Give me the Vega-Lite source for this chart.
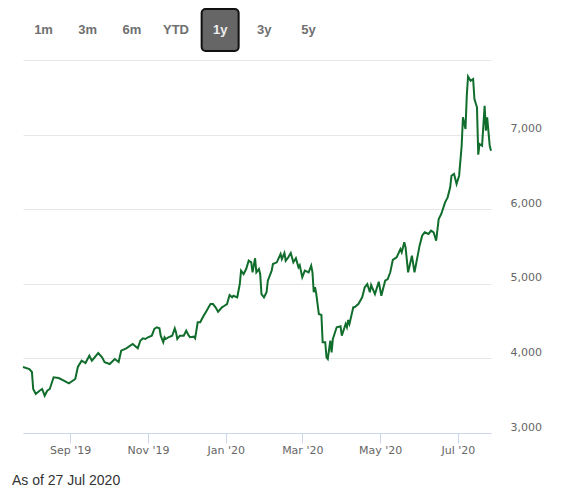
{
  "$schema": "https://vega.github.io/schema/vega-lite/v6.json",
  "background": "white",
  "padding": {"left": 12, "top": 8, "right": 0, "bottom": 0},
  "spacing": 8,
  "config": {"view": {"stroke": null}, "font": "DejaVu Sans"},
  "vconcat": [
    {
      "width": 306,
      "height": 42,
      "data": {
        "values": [
          {"range": "1m", "selected": false},
          {"range": "3m", "selected": false},
          {"range": "6m", "selected": false},
          {"range": "YTD", "selected": false},
          {"range": "1y", "selected": true},
          {"range": "3y", "selected": false},
          {"range": "5y", "selected": false}
        ]
      },
      "encoding": {
        "x": {
          "field": "range",
          "type": "nominal",
          "sort": null,
          "scale": {
            "type": "point",
            "padding": 0.465,
            "domain": ["1m", "3m", "6m", "YTD", "1y", "3y", "5y"]
          },
          "axis": null
        }
      },
      "layer": [
        {
          "transform": [{"filter": "datum.selected"}],
          "mark": {
            "type": "bar",
            "width": 37,
            "cornerRadius": 4,
            "fill": "#666666",
            "stroke": "#111111",
            "strokeWidth": 2
          }
        },
        {
          "mark": {
            "type": "text",
            "font": "Liberation Sans",
            "fontSize": 13,
            "fontWeight": "bold",
            "baseline": "middle"
          },
          "encoding": {
            "text": {"field": "range"},
            "color": {
              "field": "selected",
              "type": "nominal",
              "scale": {"domain": [false, true], "range": ["#707070", "#eeeeee"]},
              "legend": null
            }
          }
        }
      ]
    },
    {
      "width": 468,
      "height": 373,
      "title": {
        "text": "As of 27 Jul 2020",
        "orient": "bottom",
        "anchor": "start",
        "frame": "group",
        "font": "Liberation Sans",
        "fontSize": 14,
        "fontWeight": "normal",
        "color": "#333333",
        "dx": -11,
        "offset": 19
      },
      "data": {
        "values": [
          {"date": "2019-07-26", "value": 3885},
          {"date": "2019-07-31", "value": 3858},
          {"date": "2019-08-02", "value": 3818},
          {"date": "2019-08-03", "value": 3590},
          {"date": "2019-08-05", "value": 3523},
          {"date": "2019-08-08", "value": 3567},
          {"date": "2019-08-10", "value": 3590},
          {"date": "2019-08-12", "value": 3500},
          {"date": "2019-08-14", "value": 3567},
          {"date": "2019-08-16", "value": 3590},
          {"date": "2019-08-19", "value": 3747},
          {"date": "2019-08-23", "value": 3737},
          {"date": "2019-08-27", "value": 3701},
          {"date": "2019-08-31", "value": 3666},
          {"date": "2019-09-05", "value": 3724},
          {"date": "2019-09-07", "value": 3885},
          {"date": "2019-09-10", "value": 3969},
          {"date": "2019-09-13", "value": 3938},
          {"date": "2019-09-16", "value": 4036},
          {"date": "2019-09-18", "value": 3969},
          {"date": "2019-09-23", "value": 4072},
          {"date": "2019-09-26", "value": 4015},
          {"date": "2019-09-28", "value": 3948},
          {"date": "2019-10-02", "value": 3925},
          {"date": "2019-10-06", "value": 3992},
          {"date": "2019-10-09", "value": 3952},
          {"date": "2019-10-11", "value": 4103},
          {"date": "2019-10-15", "value": 4135},
          {"date": "2019-10-20", "value": 4193},
          {"date": "2019-10-24", "value": 4135},
          {"date": "2019-10-26", "value": 4237},
          {"date": "2019-10-28", "value": 4269},
          {"date": "2019-10-30", "value": 4260},
          {"date": "2019-11-01", "value": 4283},
          {"date": "2019-11-04", "value": 4304},
          {"date": "2019-11-06", "value": 4394},
          {"date": "2019-11-08", "value": 4417},
          {"date": "2019-11-10", "value": 4403},
          {"date": "2019-11-11", "value": 4304},
          {"date": "2019-11-13", "value": 4216},
          {"date": "2019-11-14", "value": 4283},
          {"date": "2019-11-15", "value": 4260},
          {"date": "2019-11-17", "value": 4283},
          {"date": "2019-11-20", "value": 4304},
          {"date": "2019-11-22", "value": 4403},
          {"date": "2019-11-23", "value": 4350},
          {"date": "2019-11-24", "value": 4260},
          {"date": "2019-11-26", "value": 4304},
          {"date": "2019-11-29", "value": 4304},
          {"date": "2019-12-01", "value": 4371},
          {"date": "2019-12-03", "value": 4304},
          {"date": "2019-12-04", "value": 4283},
          {"date": "2019-12-07", "value": 4291},
          {"date": "2019-12-08", "value": 4269},
          {"date": "2019-12-10", "value": 4484},
          {"date": "2019-12-12", "value": 4484},
          {"date": "2019-12-14", "value": 4551},
          {"date": "2019-12-17", "value": 4639},
          {"date": "2019-12-20", "value": 4729},
          {"date": "2019-12-22", "value": 4729},
          {"date": "2019-12-24", "value": 4685},
          {"date": "2019-12-26", "value": 4626},
          {"date": "2019-12-29", "value": 4685},
          {"date": "2019-12-31", "value": 4706},
          {"date": "2020-01-02", "value": 4729},
          {"date": "2020-01-04", "value": 4850},
          {"date": "2020-01-06", "value": 4819},
          {"date": "2020-01-07", "value": 4840},
          {"date": "2020-01-10", "value": 4819},
          {"date": "2020-01-12", "value": 4997},
          {"date": "2020-01-13", "value": 5176},
          {"date": "2020-01-15", "value": 5131},
          {"date": "2020-01-17", "value": 5198},
          {"date": "2020-01-19", "value": 5310},
          {"date": "2020-01-21", "value": 5288},
          {"date": "2020-01-22", "value": 5154},
          {"date": "2020-01-24", "value": 5342},
          {"date": "2020-01-25", "value": 5154},
          {"date": "2020-01-27", "value": 5198},
          {"date": "2020-01-28", "value": 5131},
          {"date": "2020-01-29", "value": 4863},
          {"date": "2020-01-31", "value": 4819},
          {"date": "2020-02-02", "value": 4886},
          {"date": "2020-02-03", "value": 5042},
          {"date": "2020-02-06", "value": 5176},
          {"date": "2020-02-07", "value": 5265},
          {"date": "2020-02-10", "value": 5288},
          {"date": "2020-02-13", "value": 5400},
          {"date": "2020-02-14", "value": 5332},
          {"date": "2020-02-16", "value": 5413},
          {"date": "2020-02-17", "value": 5310},
          {"date": "2020-02-19", "value": 5355},
          {"date": "2020-02-21", "value": 5413},
          {"date": "2020-02-23", "value": 5288},
          {"date": "2020-02-25", "value": 5342},
          {"date": "2020-02-27", "value": 5221},
          {"date": "2020-02-28", "value": 5250},
          {"date": "2020-03-01", "value": 5087},
          {"date": "2020-03-03", "value": 5176},
          {"date": "2020-03-06", "value": 5154},
          {"date": "2020-03-08", "value": 5243},
          {"date": "2020-03-09", "value": 5154},
          {"date": "2020-03-10", "value": 4886},
          {"date": "2020-03-11", "value": 4953},
          {"date": "2020-03-12", "value": 4863},
          {"date": "2020-03-14", "value": 4595},
          {"date": "2020-03-16", "value": 4582},
          {"date": "2020-03-17", "value": 4216},
          {"date": "2020-03-19", "value": 4216},
          {"date": "2020-03-20", "value": 4015},
          {"date": "2020-03-21", "value": 3992},
          {"date": "2020-03-23", "value": 4237},
          {"date": "2020-03-24", "value": 4082},
          {"date": "2020-03-25", "value": 4260},
          {"date": "2020-03-28", "value": 4417},
          {"date": "2020-03-31", "value": 4430},
          {"date": "2020-04-01", "value": 4304},
          {"date": "2020-04-04", "value": 4461},
          {"date": "2020-04-05", "value": 4417},
          {"date": "2020-04-06", "value": 4515},
          {"date": "2020-04-07", "value": 4461},
          {"date": "2020-04-10", "value": 4685},
          {"date": "2020-04-11", "value": 4685},
          {"date": "2020-04-14", "value": 4729},
          {"date": "2020-04-17", "value": 4819},
          {"date": "2020-04-19", "value": 4953},
          {"date": "2020-04-21", "value": 4997},
          {"date": "2020-04-23", "value": 4886},
          {"date": "2020-04-24", "value": 4984},
          {"date": "2020-04-27", "value": 4863},
          {"date": "2020-04-30", "value": 5028},
          {"date": "2020-05-02", "value": 4840},
          {"date": "2020-05-05", "value": 5042},
          {"date": "2020-05-07", "value": 5064},
          {"date": "2020-05-09", "value": 5154},
          {"date": "2020-05-11", "value": 5320},
          {"date": "2020-05-14", "value": 5355},
          {"date": "2020-05-17", "value": 5466},
          {"date": "2020-05-18", "value": 5422},
          {"date": "2020-05-20", "value": 5556},
          {"date": "2020-05-21", "value": 5489},
          {"date": "2020-05-23", "value": 5154},
          {"date": "2020-05-26", "value": 5377},
          {"date": "2020-05-28", "value": 5154},
          {"date": "2020-06-01", "value": 5511},
          {"date": "2020-06-03", "value": 5645},
          {"date": "2020-06-05", "value": 5690},
          {"date": "2020-06-08", "value": 5668},
          {"date": "2020-06-10", "value": 5712},
          {"date": "2020-06-12", "value": 5690},
          {"date": "2020-06-14", "value": 5578},
          {"date": "2020-06-16", "value": 5869},
          {"date": "2020-06-18", "value": 5936},
          {"date": "2020-06-21", "value": 6092},
          {"date": "2020-06-23", "value": 6159},
          {"date": "2020-06-25", "value": 6293},
          {"date": "2020-06-26", "value": 6449},
          {"date": "2020-06-28", "value": 6472},
          {"date": "2020-06-30", "value": 6338},
          {"date": "2020-07-02", "value": 6449},
          {"date": "2020-07-04", "value": 6851},
          {"date": "2020-07-05", "value": 7232},
          {"date": "2020-07-07", "value": 7075},
          {"date": "2020-07-08", "value": 7521},
          {"date": "2020-07-09", "value": 7779},
          {"date": "2020-07-11", "value": 7722},
          {"date": "2020-07-13", "value": 7745},
          {"date": "2020-07-14", "value": 7477},
          {"date": "2020-07-16", "value": 7366},
          {"date": "2020-07-17", "value": 6730},
          {"date": "2020-07-18", "value": 6874},
          {"date": "2020-07-20", "value": 6851},
          {"date": "2020-07-22", "value": 7387},
          {"date": "2020-07-23", "value": 7052},
          {"date": "2020-07-24", "value": 7232},
          {"date": "2020-07-26", "value": 6851},
          {"date": "2020-07-27", "value": 6784}
        ]
      },
      "mark": {"type": "line", "color": "#116d2c", "strokeWidth": 2},
      "encoding": {
        "x": {
          "field": "date",
          "type": "temporal",
          "scale": {"nice": false},
          "axis": {
            "title": null,
            "format": "%b '%y",
            "tickCount": {"interval": "month", "step": 2},
            "grid": false,
            "domainColor": "#ccd6eb",
            "tickColor": "#ccd6eb",
            "tickSize": 10,
            "labelPadding": 1,
            "labelFont": "DejaVu Sans",
            "labelFontSize": 11,
            "labelColor": "#666666",
            "labelFlush": false,
            "labelOverlap": false
          }
        },
        "y": {
          "field": "value",
          "type": "quantitative",
          "scale": {"domain": [3000, 8000]},
          "axis": {
            "orient": "right",
            "title": null,
            "values": [3000, 4000, 5000, 6000, 7000, 8000],
            "grid": true,
            "gridColor": "#e6e6e6",
            "domain": false,
            "ticks": false,
            "tickSize": 0,
            "labelPadding": 19,
            "labelAlign": "left",
            "labelBaseline": "middle",
            "labelOffset": -6,
            "labelExpr": "datum.value >= 8000 ? '' : format(datum.value, ',')",
            "labelFont": "DejaVu Sans",
            "labelFontSize": 11,
            "labelColor": "#666666"
          }
        }
      }
    }
  ]
}
